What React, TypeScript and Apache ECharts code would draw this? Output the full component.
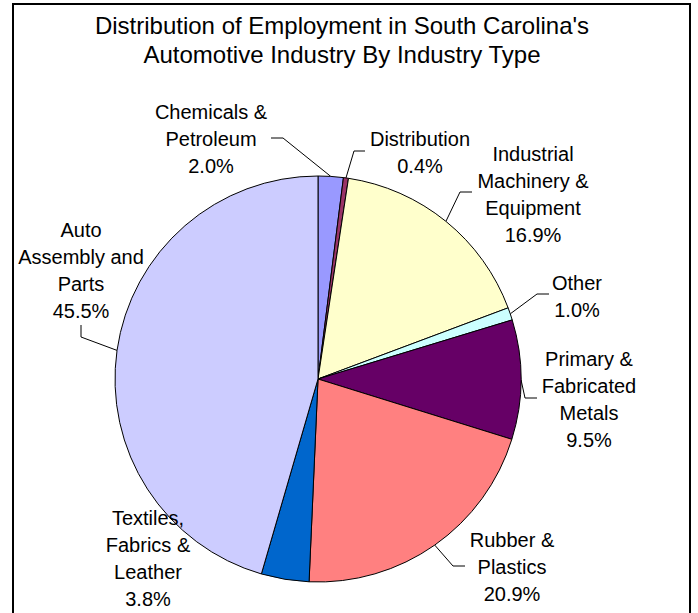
import React, { useEffect, useRef } from "react";
import * as echarts from "echarts";

const categories = [
  "Chemicals &\nPetroleum",
  "Distribution",
  "Industrial\nMachinery &\nEquipment",
  "Other",
  "Primary &\nFabricated\nMetals",
  "Rubber &\nPlastics",
  "Textiles,\nFabrics &\nLeather",
  "Auto\nAssembly and\nParts",
];
const shares = [2.0, 0.4, 16.9, 1.0, 9.5, 20.9, 3.8, 45.5];
const colors = ["#9999FF", "#993366", "#FFFFCC", "#CCFFFF", "#660066", "#FF8080", "#0066CC", "#CCCCFF"];
const titleText = "Distribution of Employment in South Carolina's\nAutomotive Industry By Industry Type";

// label layout (positions only)
const labelX = [211, 420, 533, 577, 589, 512, 148, 81];
const labelY = [139, 152, 194, 296, 399, 567, 558, 270];
const elbows: (number[] | null)[] = [[283, 138], [354, 151], [460, 192], [537, 294], [525, 398], [453, 566], null, [81, 337]];
const ends: (number[] | null)[] = [[271, 138], [365, 151], [472, 192], [549, 294], [537, 398], [465, 566], null, [81, 325]];

const CX = 318;
const CY = 379;
const R = 203;
const FONT = "'Liberation Sans', Arial, sans-serif";

export default function App() {
  const ref = useRef<HTMLDivElement>(null);
  useEffect(() => {
    document.body.style.margin = "0";
    const chart = echarts.init(ref.current!, null, { renderer: "svg" });
    const total = shares.reduce((a, b) => a + b, 0);
    const anchorFor = (i: number) => {
      let cum = 0;
      for (let k = 0; k < i; k++) cum += shares[k];
      const mid = ((cum + shares[i] / 2) / total) * Math.PI * 2;
      return [CX + R * Math.sin(mid), CY - R * Math.cos(mid)];
    };
    chart.setOption({
      animation: false,
      backgroundColor: "#fff",
      graphic: [
        {
          type: "rect",
          shape: { x: 13, y: 4, width: 677, height: 640 },
          style: { fill: "none", stroke: "#000", lineWidth: 2 },
          z: 0,
        },
        {
          type: "text",
          x: 342,
          y: 40,
          style: {
            text: titleText,
            font: `24px ${FONT}`,
            fill: "#000",
            textAlign: "center",
            textVerticalAlign: "middle",
            lineHeight: 29,
          },
        },
      ],
      series: [
        {
          type: "pie",
          center: [CX, CY],
          radius: R,
          startAngle: 90,
          clockwise: true,
          avoidLabelOverlap: false,
          silent: true,
          emphasis: { disabled: true },
          itemStyle: { borderColor: "#000", borderWidth: 1 },
          label: {
            show: true,
            position: "outside",
            color: "#000",
            fontFamily: FONT,
            fontSize: 20,
            lineHeight: 27,
            formatter: (p: any) => `${p.name}\n${Number(p.value).toFixed(1)}%`,
          },
          labelLine: {
            show: true,
            length: 10,
            length2: 10,
            lineStyle: { color: "#000", width: 1 },
          },
          labelLayout: (params: any) => {
            const i = params.dataIndex;
            const res: any = {
              x: labelX[i],
              y: labelY[i],
              align: "center",
              verticalAlign: "middle",
            };
            const el = elbows[i];
            const en = ends[i];
            if (el && en) {
              const a = params.labelLinePoints && params.labelLinePoints[0] ? params.labelLinePoints[0] : anchorFor(i);
              res.labelLinePoints = [[a[0], a[1]], el, en];
            }
            return res;
          },
          data: categories.map((name, i) => ({
            name,
            value: shares[i],
            itemStyle: { color: colors[i] },
            labelLine: elbows[i] ? undefined : { show: false },
          })),
        },
      ],
    });
    return () => chart.dispose();
  }, []);
  return <div ref={ref} style={{ position: "absolute", left: 0, top: 0, width: 698, height: 613 }} />;
}
